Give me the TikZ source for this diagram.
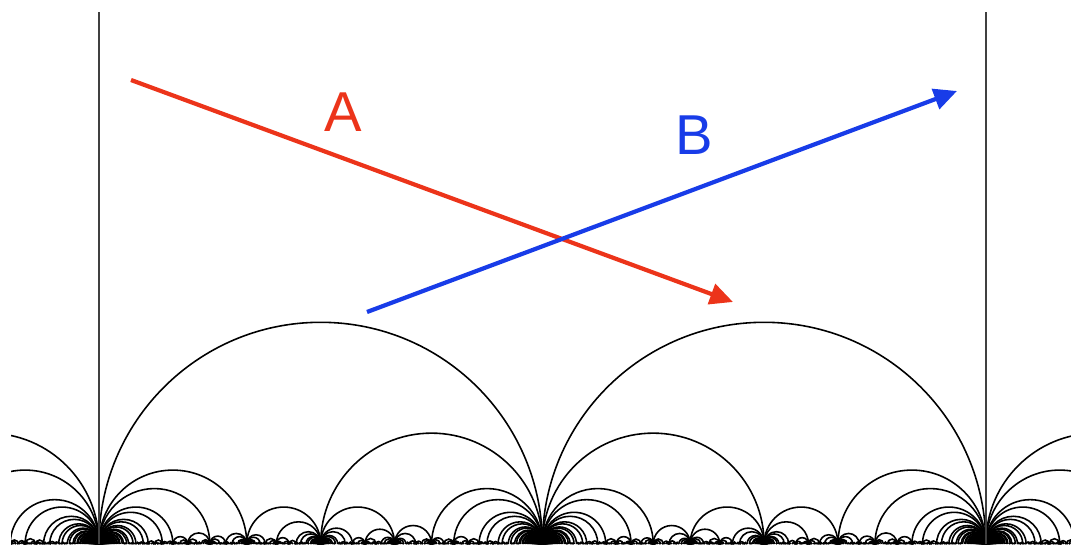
\documentclass[tikz,border=0pt]{standalone}
\usepackage{fontspec}
\setsansfont{Liberation Sans}
\usetikzlibrary{arrows.meta}
\definecolor{rayred}{RGB}{236,52,26}
\definecolor{rayblue}{RGB}{24,60,232}

\newcommand\un{8.87}   % cm per unit on the real line
\newcommand\ox{1.98}   % where 0 sits, in cm
\newcommand\maxqs{350}
\newcommand\modthree[1]{\the\numexpr(#1)-3*(((#1)-1)/3)\relax}
% p/q reduced mod 3, 3 stands for infinity
\newcommand\vcl[2]{\ifnum\numexpr(#2)-3*(((#2)-1)/3)\relax=0 3\else\modthree{(#1)*(#2)+300000}\fi}
\newcommand\fareyskip[4]{}
\newcommand\fareydo[4]{%
  \ifodd\numexpr\vcl{#1}{#2}+\vcl{#3}{#4}\relax
    \pgfmathsetmacro\xa{\ox+\un*(#1)/(#2)}%
    \pgfmathsetmacro\rr{\un/\the\numexpr2*(#2)*(#4)\relax}%
    \draw[farc] (\xa cm,0cm) arc[start angle=180,end angle=0,radius=\rr cm];%
  \fi
  \expanded{\noexpand\farey{#1}{#2}{\the\numexpr#1+#3\relax}{\the\numexpr#2+#4\relax}%
    \noexpand\farey{\the\numexpr#1+#3\relax}{\the\numexpr#2+#4\relax}{#3}{#4}}}
\newcommand\farey[4]{%
  \let\fnext\fareydo
  \ifnum\numexpr(#2)*(#4)\relax>\maxqs\relax\let\fnext\fareyskip\fi
  \ifnum\numexpr1000*(#3)+200*(#4)\relax<0 \let\fnext\fareyskip\fi
  \ifnum\numexpr1000*(#1)-2192*(#2)\relax>0 \let\fnext\fareyskip\fi
  \fnext{#1}{#2}{#3}{#4}}

\begin{document}
\begin{tikzpicture}[x=0.02cm, y=0.02cm,
    farc/.style={line width=0.9pt, black},
    wall/.style={line width=0.65pt, black!75},
    ray/.style={line width=2.4pt, -{Triangle[length=0.46cm,width=0.42cm]}},
    lbl/.style={font=\sffamily\fontsize{32}{32}\selectfont, inner sep=0pt}
  ]
  \useasboundingbox (0,0) rectangle (1071,544);
  % tiling of the half plane
  \begin{scope}
    \clip (11,0) rectangle (1071,544);
    \farey{-1}{1}{0}{1}\farey{0}{1}{1}{1}\farey{1}{1}{2}{1}\farey{2}{1}{3}{1}
  \end{scope}
  \draw[wall] (99,0) -- (99,532);
  \draw[wall] (986,0) -- (986,532);
  % the two geodesics
  \coordinate (a0) at (131,464);
  \coordinate (a1) at (733,242);
  \coordinate (b0) at (367,232);
  \coordinate (b1) at (957,453);
  \draw[ray, rayred] (a0) -- (a1);
  \draw[ray, rayblue] (b0) -- (b1);
  \node[lbl, text=rayred] (la) at (343.5,431.5) {A};
  \node[lbl, text=rayblue] (lb) at (694.5,409) {B};
\end{tikzpicture}
\end{document}
